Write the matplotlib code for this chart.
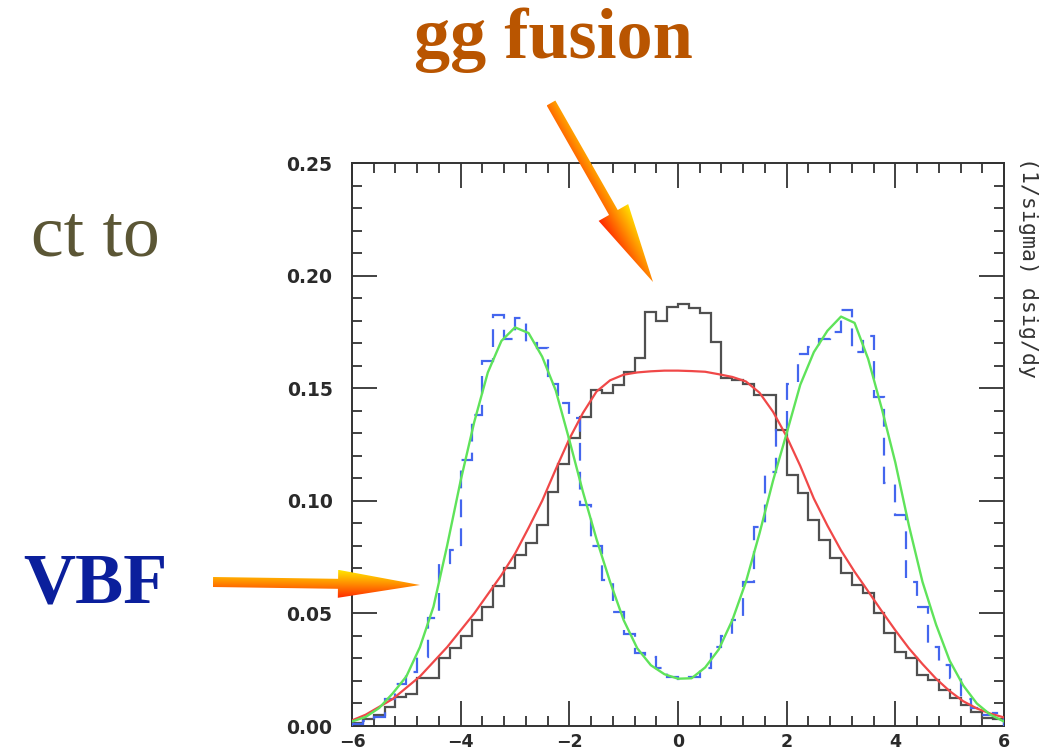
import numpy as np
import matplotlib
matplotlib.use("Agg")
import matplotlib.pyplot as plt
from matplotlib.patches import Polygon
from matplotlib.colors import LinearSegmentedColormap
from matplotlib.ticker import MultipleLocator, FormatStrFormatter

W, H = 1064, 756

# rapidity bins of width 0.2
bin_edges = np.linspace(-6.0, 6.0, 61)

# gg fusion, (1/sigma) dsig/dy per bin
gg_hist = [0.0015, 0.0030, 0.0050, 0.0086, 0.0130, 0.0140, 0.0212, 0.0212, 0.0300, 0.0345,
           0.0400, 0.0470, 0.0530, 0.0620, 0.0700, 0.0760, 0.0812, 0.0893, 0.1040, 0.1163,
           0.1277, 0.1374, 0.1492, 0.1477, 0.1515, 0.1573, 0.1633, 0.1840, 0.1800, 0.1862,
           0.1874, 0.1855, 0.1832, 0.1707, 0.1544, 0.1536, 0.1520, 0.1470, 0.1470, 0.1314,
           0.1115, 0.1033, 0.0915, 0.0826, 0.0745, 0.0678, 0.0626, 0.0589, 0.0500, 0.0411,
           0.0330, 0.0300, 0.0226, 0.0204, 0.0160, 0.0123, 0.0093, 0.0064, 0.0034, 0.0030]

# VBF, same bins
vbf_hist = [0.0010, 0.0020, 0.0040, 0.0120, 0.0185, 0.0240, 0.0308, 0.0480, 0.0722, 0.0780,
            0.1180, 0.1380, 0.1620, 0.1825, 0.1720, 0.1810, 0.1700, 0.1680, 0.1520, 0.1433,
            0.1366, 0.0980, 0.0800, 0.0648, 0.0508, 0.0410, 0.0325, 0.0308, 0.0256, 0.0219,
            0.0210, 0.0219, 0.0256, 0.0352, 0.0400, 0.0470, 0.0640, 0.0885, 0.1130, 0.1314,
            0.1520, 0.1650, 0.1684, 0.1720, 0.1750, 0.1847, 0.1660, 0.1730, 0.1460, 0.1078,
            0.0937, 0.0640, 0.0530, 0.0350, 0.0271, 0.0212, 0.0120, 0.0080, 0.0050, 0.0056]

# smooth fits, sampled every 0.25
fit_y = np.linspace(-6.0, 6.0, 49)
gg_fit = [0.0025, 0.0050, 0.0085, 0.0120, 0.0170, 0.0220, 0.0285, 0.0350, 0.0425, 0.0500,
          0.0585, 0.0670, 0.0765, 0.0880, 0.1000, 0.1140, 0.1275, 0.1390, 0.1485, 0.1535,
          0.1560, 0.1570, 0.1575, 0.1578, 0.1578, 0.1576, 0.1573, 0.1562, 0.1550, 0.1530,
          0.1480, 0.1395, 0.1285, 0.1155, 0.1010, 0.0890, 0.0780, 0.0685, 0.0598, 0.0510,
          0.0425, 0.0345, 0.0275, 0.0210, 0.0155, 0.0110, 0.0078, 0.0055, 0.0038]
vbf_fit = [0.0020, 0.0040, 0.0080, 0.0145, 0.0220, 0.0350, 0.0530, 0.0800, 0.1090, 0.1350,
           0.1570, 0.1710, 0.1770, 0.1745, 0.1640, 0.1490, 0.1270, 0.1040, 0.0830, 0.0640,
           0.0470, 0.0345, 0.0270, 0.0230, 0.0210, 0.0212, 0.0260, 0.0340, 0.0470, 0.0640,
           0.0855, 0.1090, 0.1300, 0.1515, 0.1660, 0.1755, 0.1818, 0.1790, 0.1630, 0.1410,
           0.1170, 0.0890, 0.0640, 0.0450, 0.0290, 0.0180, 0.0100, 0.0050, 0.0020]

x_ticks = [-6, -4, -2, 0, 2, 4, 6]
y_ticks = [0.00, 0.05, 0.10, 0.15, 0.20, 0.25]

fig = plt.figure(figsize=(W / 100, H / 100), dpi=100)
ax = fig.add_axes([352 / W, (H - 726) / H, 652 / W, 563 / H])

ax.stairs(gg_hist, bin_edges, color="#505050", lw=1.6, zorder=2)
ax.stairs(vbf_hist, bin_edges, color="#4466ee", lw=1.6, linestyle=(0, (8, 5)), zorder=3)
ax.plot(fit_y, gg_fit, color="#f04848", lw=1.6, zorder=4)
ax.plot(fit_y, vbf_fit, color="#5fe35a", lw=1.7, zorder=5)

ax.set_xlim(-6, 6)
ax.set_ylim(0, 0.25)
ax.set_xticks(x_ticks)
ax.set_yticks(y_ticks)
ax.xaxis.set_minor_locator(MultipleLocator(0.4))
ax.yaxis.set_minor_locator(MultipleLocator(0.01))
ax.yaxis.set_major_formatter(FormatStrFormatter("%.2f"))
ax.tick_params(which="both", direction="in", top=True, right=True,
               color="#333333", width=1.3, labelcolor="#2a2a2a", labelsize=13.5)
ax.tick_params(which="major", length=18)
ax.tick_params(which="minor", length=7)
ax.tick_params(axis="x", pad=5, labelsize=12.5)
ax.tick_params(axis="y", pad=14)
for lbl in ax.get_xticklabels() + ax.get_yticklabels():
    lbl.set_fontweight("bold")
for sp in ax.spines.values():
    sp.set_color("#333333")
    sp.set_linewidth(1.4)

# overlay in pixel units for the slide text and arrows
ov = fig.add_axes([0, 0, 1, 1], zorder=10)
ov.axis("off")

flame = LinearSegmentedColormap.from_list("flame", ["#ff2a00", "#ff8a00", "#ffe600"])


def gradient_arrow(axis, tail, tip, shaft_w, head_w, head_len):
    tail = np.asarray(tail, float)
    tip = np.asarray(tip, float)
    d = tip - tail
    d = d / np.hypot(*d)
    left = np.array([d[1], -d[0]])
    base = tip - d * head_len
    pts = np.array([tail + left * shaft_w / 2, base + left * shaft_w / 2,
                    base + left * head_w / 2, tip, base - left * head_w / 2,
                    base - left * shaft_w / 2, tail - left * shaft_w / 2])
    poly = Polygon(pts, closed=True, facecolor="none", edgecolor="none")
    axis.add_patch(poly)
    x0, y0 = pts.min(axis=0)
    x1, y1 = pts.max(axis=0)
    gx, gy = np.meshgrid(np.linspace(x0, x1, 200), np.linspace(y0, y1, 200))
    t = ((gx - tail[0]) * left[0] + (gy - tail[1]) * left[1]) / (head_w / 2)
    im = axis.imshow(t, extent=(x0, x1, y1, y0), origin="upper", cmap=flame,
                     vmin=-1, vmax=1, interpolation="bilinear", aspect="auto")
    im.set_clip_path(poly)


gradient_arrow(ov, (551, 103), (653, 282), 10, 34, 80)
gradient_arrow(ov, (213, 582), (420, 585), 10, 28, 82)

ov.text(553, 58, "gg fusion", ha="center", va="baseline", fontsize=52,
        fontweight="bold", family="Liberation Serif", color="#b95500")
ov.text(95, 603, "VBF", ha="center", va="baseline", fontsize=52,
        fontweight="bold", family="Liberation Serif", color="#0b1f9c")
ov.text(160, 255, "ct to", ha="right", va="baseline", fontsize=53,
        family="Liberation Serif", color="#5b5635")
ov.text(1028, 157, "(1/sigma) dsig/dy", rotation=-90, ha="center", va="top",
        family="DejaVu Sans Mono", fontsize=15.5, color="#333333")

ov.set_xlim(0, W)
ov.set_ylim(H, 0)

fig.savefig("out.png", dpi=100)
